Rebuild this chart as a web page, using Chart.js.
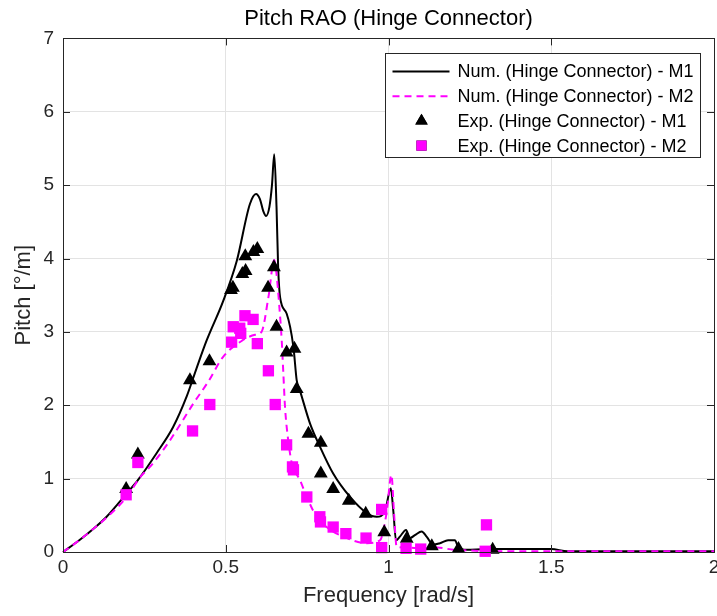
<!DOCTYPE html>
<html>
<head>
<meta charset="utf-8">
<title>Pitch RAO (Hinge Connector)</title>
<script src="https://cdn.jsdelivr.net/npm/chart.js@4.4.1/dist/chart.umd.min.js"></script>
<style>
  body { margin: 0; background: #fff; overflow: hidden; }
  canvas { display: block; }
</style>
</head>
<body>
<canvas id="pitchChart" width="717" height="616"></canvas>
<script>
// numerical RAO, model 1 (solid black)
const numFreqM1 = [0, 0.05, 0.1, 0.134, 0.196, 0.23, 0.288, 0.338, 0.38, 0.41, 0.441, 0.492, 0.534, 0.574, 0.593, 0.605,
  0.615, 0.624, 0.634, 0.642, 0.649, 0.656, 0.661, 0.667, 0.687, 0.708, 0.718, 0.728, 0.759, 0.79, 0.83, 0.882,
  0.933, 0.964, 0.989, 1.007, 1.015, 1.023, 1.035, 1.054, 1.066, 1.081, 1.102, 1.117, 1.137, 1.158, 1.183, 1.204,
  1.214, 1.24, 1.3, 1.4, 1.5, 1.55, 1.7, 1.85, 2.0];
const numPitchM1 = [0, 0.16, 0.34, 0.48, 0.80, 0.98, 1.35, 1.70, 2.12, 2.50, 2.88, 3.42, 3.97, 4.74, 4.88, 4.81,
  4.65, 4.58, 4.70, 5.0, 5.42, 4.70, 3.88, 3.47, 3.25, 2.79, 2.34, 2.20, 1.75, 1.43, 1.07, 0.75,
  0.53, 0.48, 0.55, 0.87, 0.55, 0.16, 0.21, 0.30, 0.19, 0.23, 0.28, 0.21, 0.10, 0.12, 0.16, 0.16,
  0.07, 0.03, 0.04, 0.04, 0.04, 0.01, 0.01, 0.01, 0.01];

// numerical RAO, model 2 (dashed magenta)
const numFreqM2 = [0, 0.05, 0.1, 0.134, 0.196, 0.237, 0.267, 0.319, 0.359, 0.4, 0.446, 0.492, 0.55, 0.59, 0.61,
  0.631, 0.649, 0.656, 0.664, 0.672, 0.677, 0.682, 0.692, 0.703, 0.728, 0.749, 0.779, 0.81, 0.861, 0.933, 0.974,
  0.994, 1.009, 1.017, 1.025, 1.06, 1.1, 1.15, 1.2, 1.25, 1.3, 1.5, 1.7, 2.0];
const numPitchM2 = [0, 0.16, 0.34, 0.47, 0.75, 1.02, 1.16, 1.46, 1.73, 2.02, 2.32, 2.66, 2.88, 2.96, 3.0,
  3.47, 3.98, 3.79, 3.38, 2.88, 2.43, 1.98, 1.52, 1.21, 0.98, 0.75, 0.48, 0.34, 0.21, 0.12, 0.16,
  0.53, 1.05, 0.53, 0.07, 0.06, 0.05, 0.06, 0.03, 0.02, 0.01, 0.01, 0.01, 0.01];

// experiments, model 1 (triangles)
const expFreqM1 = [0.194, 0.230, 0.390, 0.450, 0.516, 0.522, 0.551, 0.561, 0.560, 0.585, 0.597, 0.630, 0.648, 0.656,
  0.687, 0.711, 0.718, 0.754, 0.792, 0.792, 0.830, 0.878, 0.930, 0.987, 1.056, 1.133, 1.215, 1.320];
const expPitchM1 = [0.86, 1.33, 2.34, 2.60, 3.57, 3.60, 3.79, 3.83, 4.03, 4.09, 4.13, 3.60, 3.88, 3.07,
  2.72, 2.77, 2.22, 1.61, 1.49, 1.07, 0.86, 0.70, 0.52, 0.27, 0.18, 0.08, 0.04, 0.03];

// experiments, model 2 (squares)
const expFreqM2 = [0.194, 0.230, 0.398, 0.451, 0.518, 0.523, 0.543, 0.546, 0.559, 0.584, 0.597, 0.631, 0.652,
  0.687, 0.705, 0.708, 0.749, 0.789, 0.791, 0.830, 0.869, 0.931, 0.979, 0.979, 1.054, 1.099, 1.301, 1.297];
const expPitchM2 = [0.78, 1.22, 1.65, 2.01, 2.86, 3.07, 3.05, 2.98, 3.22, 3.17, 2.84, 2.47, 2.01,
  1.46, 1.16, 1.12, 0.75, 0.48, 0.41, 0.34, 0.25, 0.19, 0.58, 0.06, 0.05, 0.04, 0.37, 0.01];

const xTicks = [0, 0.5, 1, 1.5, 2];
const yTicks = [0, 1, 2, 3, 4, 5, 6, 7];

const FONT = '"Liberation Sans", Arial, Helvetica, sans-serif';
const axisColor = '#262626';
const noPadding = () => ({ left: 0, right: 0, top: 0, bottom: 0 });

function toPoints(xs, ys) {
  return xs.map((x, i) => ({ x: x, y: ys[i] }));
}

// box around the axes with inward tick marks, like matlab
const axesBox = {
  id: 'axesBox',
  afterDatasetsDraw(chart) {
    const { ctx, chartArea: a, scales } = chart;
    ctx.save();
    ctx.strokeStyle = axisColor;
    ctx.lineWidth = 1;
    ctx.strokeRect(Math.round(a.left) + 0.5, Math.round(a.top) + 0.5,
      Math.round(a.right - a.left), Math.round(a.bottom - a.top));
    ctx.beginPath();
    xTicks.forEach(v => {
      const px = Math.round(scales.x.getPixelForValue(v)) + 0.5;
      ctx.moveTo(px, a.bottom); ctx.lineTo(px, a.bottom - 7);
      ctx.moveTo(px, a.top); ctx.lineTo(px, a.top + 7);
    });
    yTicks.forEach(v => {
      const py = Math.round(scales.y.getPixelForValue(v)) + 0.5;
      ctx.moveTo(a.left, py); ctx.lineTo(a.left + 7, py);
      ctx.moveTo(a.right, py); ctx.lineTo(a.right - 7, py);
    });
    ctx.stroke();
    ctx.restore();
  }
};

// legend box in the top right corner of the plot
const boxLegend = {
  id: 'boxLegend',
  afterDraw(chart) {
    const { ctx, chartArea: a } = chart;
    const w = 315, h = 104;
    const left = Math.round(a.right - 14 - w) + 0.5;
    const top = Math.round(a.top + 15) + 0.5;
    ctx.save();
    ctx.fillStyle = '#fff';
    ctx.fillRect(left, top, w, h);
    ctx.strokeStyle = axisColor;
    ctx.lineWidth = 1;
    ctx.strokeRect(left, top, w, h);
    ctx.font = '18px ' + FONT;
    ctx.textBaseline = 'middle';
    chart.data.datasets.forEach((ds, i) => {
      const y = top + 18 + i * 24.7;
      if (ds.showLine) {
        ctx.save();
        ctx.strokeStyle = ds.borderColor;
        ctx.lineWidth = ds.borderWidth;
        ctx.setLineDash(ds.borderDash || []);
        ctx.beginPath();
        ctx.moveTo(left + 7, y);
        ctx.lineTo(left + 64, y);
        ctx.stroke();
        ctx.restore();
      } else {
        Chart.helpers.drawPoint(ctx, {
          pointStyle: ds.pointStyle, radius: ds.pointRadius * 0.9, rotation: 0, borderWidth: 0
        }, left + 36, y);
        ctx.fillStyle = ds.backgroundColor;
        ctx.fill();
      }
      ctx.fillStyle = '#000';
      ctx.fillText(ds.label, left + 72, y + 1);
    });
    ctx.restore();
  }
};

const ctx = document.getElementById('pitchChart').getContext('2d');

new Chart(ctx, {
  type: 'scatter',
  data: {
    datasets: [
      {
        label: 'Num. (Hinge Connector) - M1',
        data: toPoints(numFreqM1, numPitchM1),
        showLine: true,
        borderColor: '#000000',
        borderWidth: 2,
        pointRadius: 0,
        cubicInterpolationMode: 'monotone',
        order: 4
      },
      {
        label: 'Num. (Hinge Connector) - M2',
        data: toPoints(numFreqM2, numPitchM2),
        showLine: true,
        borderColor: '#ff00ff',
        borderWidth: 2,
        borderDash: [7, 5],
        pointRadius: 0,
        cubicInterpolationMode: 'monotone',
        order: 3
      },
      {
        label: 'Exp. (Hinge Connector) - M1',
        data: toPoints(expFreqM1, expPitchM1),
        showLine: false,
        pointStyle: 'triangle',
        pointRadius: 8,
        backgroundColor: '#000000',
        borderWidth: 0,
        order: 2
      },
      {
        label: 'Exp. (Hinge Connector) - M2',
        data: toPoints(expFreqM2, expPitchM2),
        showLine: false,
        pointStyle: 'rect',
        pointRadius: 8,
        backgroundColor: '#ff00ff',
        borderWidth: 0,
        order: 1
      }
    ]
  },
  options: {
    responsive: false,
    animation: false,
    clip: false,
    layout: { autoPadding: false, padding: { left: 0, right: 3, top: 0, bottom: 0 } },
    plugins: {
      legend: { display: false },
      tooltip: { enabled: false },
      title: {
        display: true,
        fullSize: false,
        text: 'Pitch RAO (Hinge Connector)',
        color: '#000',
        font: { family: FONT, size: 22, weight: 'normal' },
        padding: { top: 6, bottom: 6 }
      }
    },
    scales: {
      x: {
        type: 'linear',
        min: 0,
        max: 2,
        afterBuildTicks: s => { s.ticks = xTicks.map(v => ({ value: v })); },
        afterFit: s => {
          s.height = 64; s.paddingLeft = 0; s.paddingRight = 0; s.getPadding = noPadding;
        },
        ticks: {
          color: axisColor,
          font: { family: FONT, size: 19 },
          padding: 4,
          maxRotation: 0,
          callback: v => String(v)
        },
        grid: { color: '#e3e3e3', drawTicks: false },
        border: { color: axisColor },
        title: {
          display: true,
          text: 'Frequency [rad/s]',
          color: axisColor,
          font: { family: FONT, size: 22 },
          padding: { top: 0, bottom: 7 }
        }
      },
      y: {
        type: 'linear',
        min: 0,
        max: 7,
        afterBuildTicks: s => { s.ticks = yTicks.map(v => ({ value: v })); },
        afterFit: s => {
          s.width = 63; s.paddingTop = 0; s.paddingBottom = 0; s.getPadding = noPadding;
        },
        ticks: {
          color: axisColor,
          font: { family: FONT, size: 19 },
          padding: 9
        },
        grid: { color: '#e3e3e3', drawTicks: false },
        border: { color: axisColor },
        title: {
          display: true,
          text: 'Pitch [°/m]',
          color: axisColor,
          font: { family: FONT, size: 22 },
          padding: { top: 11, bottom: 0 }
        }
      }
    }
  },
  plugins: [axesBox, boxLegend]
});
</script>
</body>
</html>
